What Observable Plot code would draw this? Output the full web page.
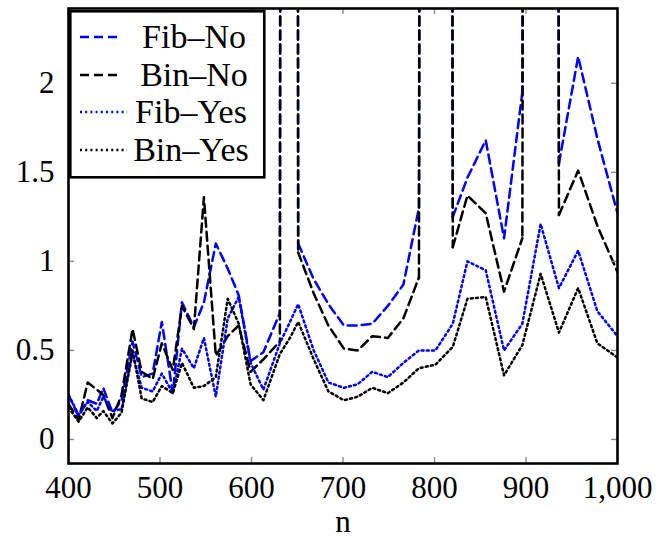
<!DOCTYPE html>
<html>
<head>
<meta charset="utf-8">
<script src="https://cdn.jsdelivr.net/npm/d3@7"></script>
<script src="https://cdn.jsdelivr.net/npm/@observablehq/plot@0.6"></script>
<style>
  html, body { margin: 0; padding: 0; background: #fff; }
  #wrap { position: relative; width: 667px; height: 537px; }
  #legend { position: absolute; left: 69px; top: 10px; }
  svg text { font-family: "Liberation Serif", "Times New Roman", "DejaVu Serif", serif !important; }
</style>
</head>
<body>
<div id="wrap"><div id="chart"></div><svg id="legend" width="197" height="169"></svg></div>
<script>
const nValues = [400, 411, 421, 431, 438, 448, 458, 470, 480, 492, 502, 514, 524, 537, 548, 561, 574, 586, 599, 613, 631, 642, 651, 668, 684, 701, 716, 732, 749, 766, 783, 801, 820, 836, 856, 876, 896, 916, 936, 957, 978, 1000];
const fibNo  = [0.25, 0.13, 0.22, 0.20, 0.29, 0.15, 0.22, 0.55, 0.35, 0.37, 0.66, 0.26, 0.77, 0.63, 0.77, 1.10, 0.96, 0.81, 0.44, 0.49, 0.71, 60, 1.10, 0.90, 0.76, 0.64, 0.64, 0.65, 0.75, 0.87, 1.30, 60, 1.25, 1.47, 1.68, 1.13, 1.95, 60, 1.55, 2.15, 1.69, 1.27];
const binNo  = [0.20, 0.11, 0.32, 0.28, 0.25, 0.12, 0.25, 0.62, 0.38, 0.34, 0.54, 0.39, 0.75, 0.62, 1.36, 0.47, 0.58, 0.64, 0.38, 0.45, 0.55, 60, 1.05, 0.82, 0.64, 0.51, 0.50, 0.58, 0.57, 0.68, 0.91, 60, 1.08, 1.37, 1.27, 0.83, 1.13, 60, 1.26, 1.51, 1.20, 0.94];
const fibYes = [0.25, 0.14, 0.21, 0.16, 0.24, 0.16, 0.17, 0.48, 0.29, 0.27, 0.37, 0.26, 0.51, 0.40, 0.57, 0.24, 0.68, 0.80, 0.43, 0.28, 0.54, 0.66, 0.76, 0.50, 0.32, 0.29, 0.31, 0.38, 0.35, 0.43, 0.50, 0.50, 0.65, 1.00, 0.95, 0.50, 0.65, 1.21, 0.85, 1.06, 0.72, 0.58];
const binYes = [0.18, 0.10, 0.18, 0.12, 0.16, 0.09, 0.15, 0.50, 0.23, 0.21, 0.30, 0.26, 0.43, 0.29, 0.30, 0.35, 0.79, 0.65, 0.31, 0.22, 0.48, 0.57, 0.66, 0.45, 0.27, 0.22, 0.24, 0.29, 0.26, 0.32, 0.40, 0.42, 0.52, 0.79, 0.80, 0.36, 0.53, 0.93, 0.60, 0.85, 0.54, 0.46];
const seriesNames = ["Fib\u2013No", "Bin\u2013No", "Fib\u2013Yes", "Bin\u2013Yes"];
const xTicks = [400, 500, 600, 700, 800, 900, 1000];
const yTicks = [0, 0.5, 1, 1.5, 2];

const seriesValues = [fibNo, binNo, fibYes, binYes];
const seriesColors = ["#0000ff", "#000000", "#0000ff", "#000000"];
const DASHED = "9,5", DOTTED = "2,3.2";
const seriesDash = [DASHED, DASHED, DOTTED, DOTTED];

const yMax = 2.42;
// Split each series into pieces; every segment touching an off-chart peak is its own
// path that starts at the peak, so the dash pattern of overlapping spikes lines up.
function pieces(name, vals) {
  const out = [];
  let seg = 0, run = [];
  const flush = () => { if (run.length > 1) run.forEach(p => out.push({...p, seg: name + "-" + seg})); seg++; run = []; };
  vals.forEach((v, i) => {
    const p = {series: name, n: nValues[i], v};
    if (v > yMax) {
      // rising segment: previous point -> peak, drawn from peak downward
      if (i > 0) { flush(); out.push({...p, seg: name + "-s" + seg}, {series: name, n: nValues[i - 1], v: vals[i - 1], seg: name + "-s" + seg}); seg++; }
      if (i < vals.length - 1) { out.push({...p, seg: name + "-t" + seg}, {series: name, n: nValues[i + 1], v: vals[i + 1], seg: name + "-t" + seg}); seg++; }
      run = [];
    } else {
      run.push(p);
    }
  });
  flush();
  return out;
}
const rows = seriesValues.flatMap((vals, si) => pieces(seriesNames[si], vals));

const font = "Liberation Serif, Times New Roman, DejaVu Serif, serif";
const W = 667, H = 537, mL = 68, mR = 50, mT = 8, mB = 74;
const innerW = W - mL - mR, innerH = H - mT - mB;
const tickLen = 6;

const lineMarks = seriesNames.map((name, si) =>
  Plot.line(rows.filter(d => d.series === name), {
    x: "n", y: "v", z: "seg", stroke: seriesColors[si], strokeWidth: 2.5,
    strokeDasharray: seriesDash[si], clip: true
  })
);

const chart = Plot.plot({
  width: W, height: H,
  marginLeft: mL, marginRight: mR, marginTop: mT, marginBottom: mB,
  style: {fontFamily: font, fontSize: "31px", color: "black", background: "white"},
  x: {domain: [400, 1000]},
  y: {domain: [-0.135, yMax]},
  marks: [
    ...lineMarks,
    Plot.tickY(yTicks, {y: d => d, insetRight: innerW - tickLen, stroke: "#8a8a8a", strokeWidth: 1.4}),
    Plot.tickY(yTicks, {y: d => d, insetLeft: innerW - tickLen, stroke: "#8a8a8a", strokeWidth: 1.4}),
    Plot.tickX(xTicks, {x: d => d, insetTop: innerH - tickLen, stroke: "#8a8a8a", strokeWidth: 1.4}),
    Plot.tickX(xTicks, {x: d => d, insetBottom: innerH - tickLen, stroke: "#8a8a8a", strokeWidth: 1.4}),
    Plot.axisX({ticks: xTicks, tickSize: 0, tickPadding: 12, tickFormat: d3.format(","),
      fontSize: 31, fontFamily: font, label: "n", labelAnchor: "center", labelOffset: 68, labelArrow: "none"}),
    Plot.axisY({ticks: yTicks, tickSize: 0, tickPadding: 14, tickFormat: d => String(d),
      fontSize: 31, fontFamily: font, label: null}),
    Plot.frame({stroke: "black", strokeWidth: 2.6})
  ]
});
document.getElementById("chart").appendChild(chart);

// Legend (inside plot, top-left)
const leg = d3.select("#legend");
leg.append("rect").attr("x", 1.3).attr("y", 1.3).attr("width", 194).attr("height", 166)
  .attr("fill", "white").attr("stroke", "black").attr("stroke-width", 2.6);
const rowY = [27, 65, 102, 140];
seriesNames.forEach((name, i) => {
  const dotted = i >= 2;
  leg.append("line").attr("x1", 11).attr("x2", dotted ? 58 : 53)
    .attr("y1", rowY[i]).attr("y2", rowY[i])
    .attr("stroke", seriesColors[i]).attr("stroke-width", 2.5)
    .attr("stroke-dasharray", seriesDash[i]);
  leg.append("text").attr("x", dotted ? 122 : 125).attr("y", rowY[i] + 11)
    .attr("text-anchor", "middle").attr("font-size", 34)
    .text(name);
});
</script>
</body>
</html>
